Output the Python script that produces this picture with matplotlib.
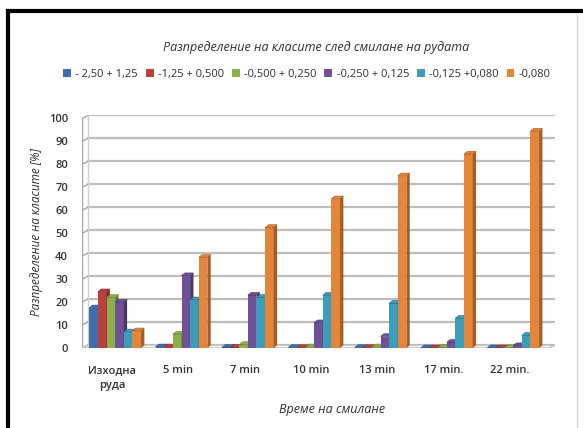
import matplotlib.pyplot as plt
from matplotlib.lines import Line2D
from matplotlib.patches import Polygon
import numpy as np

plt.rcParams['font.family'] = ['Open Sans', 'Noto Sans', 'DejaVu Sans']

# data
categories = ['Изходна\nруда', '5 min', '7 min', '10 min', '13 min', '17 min.', '22 min.']
labels = ['- 2,50 + 1,25', '-1,25 + 0,500', '-0,500 + 0,250',
          '-0,250 + 0,125', '-0,125 +0,080', '-0,080']
s1 = [17.5, 0.5, 0.3, 0.2, 0.2, 0.1, 0.1]
s2 = [24.5, 0.5, 0.3, 0.2, 0.2, 0.1, 0.1]
s3 = [22.0, 6.0, 1.5, 0.5, 0.5, 0.3, 0.2]
s4 = [20.0, 31.5, 23.0, 11.0, 5.0, 2.5, 1.0]
s5 = [7.0, 21.0, 22.0, 23.0, 19.5, 13.0, 5.5]
s6 = [7.5, 39.5, 52.5, 65.0, 75.0, 84.5, 94.5]
series = [s1, s2, s3, s4, s5, s6]
yticks = list(range(0, 101, 10))

colors = ['#3F6FAE', '#B9403D', '#8DB049', '#6E5196', '#3B9DBA', '#E3853A']
sides = ['#2A4C7A', '#7E2B29', '#5F7A30', '#4A3666', '#286C80', '#A35D25']

fig = plt.figure(figsize=(5.83, 4.28), dpi=100)
ax = fig.add_axes([82 / 583, 80 / 428, 473 / 583, 233 / 428])

x = np.arange(len(categories))
w = 0.13
dx, dy = 0.05, 1.2      # depth of the bars
gx, gy = 0.09, 1.3      # depth of the back wall
x0, x1 = -0.45, 6.68

# back wall gridlines with perspective
for t in yticks:
    ax.plot([x0 + gx, x1], [t + gy, t + gy], color='#BDBDBD', lw=1.6, zorder=1)
    ax.plot([x0 - 0.03, x0, x0 + gx], [t - 0.4, t, t + gy], color='#A6A6A6', lw=1, zorder=1)
ax.plot([x0, x0], [0, 100], color='#A6A6A6', lw=1, zorder=1)
ax.plot([x0 + gx, x0 + gx], [gy, 100 + gy], color='#D0D0D0', lw=1, zorder=1)
# floor
ax.add_patch(Polygon([[x0, 0], [x1 - gx, 0], [x1, gy], [x0 + gx, gy]],
                     closed=True, facecolor='#F2F2F2', edgecolor='#BDBDBD', lw=1, zorder=1))

for i, vals in enumerate(series):
    pos = x + 0.05 + (i - 2.5) * w
    ax.bar(pos, vals, width=w, color=colors[i], label=labels[i], zorder=3 + i * 0.01)
    for p, v in zip(pos, vals):
        r = p + w / 2
        ax.add_patch(Polygon([[r, 0], [r, v], [r + dx, v + dy], [r + dx, dy]],
                             closed=True, facecolor=sides[i], lw=0, zorder=3 + i * 0.01))
        l = p - w / 2
        ax.add_patch(Polygon([[l, v], [r, v], [r + dx, v + dy], [l + dx, v + dy]],
                             closed=True, facecolor=colors[i], edgecolor=sides[i], lw=0.4,
                             zorder=3 + i * 0.01))

ax.set_xlim(x0, x1)
ax.set_ylim(0, 100 + gy + 0.2)
ax.set_yticks(yticks)
ax.set_yticklabels([str(t) for t in yticks], fontsize=8, color='#333333', fontweight='semibold')
ax.set_xticks(x)
ax.set_xticklabels(categories, fontsize=8, color='#333333', linespacing=1.5,
                   fontweight='semibold')
ax.tick_params(axis='both', length=0)
ax.tick_params(axis='y', pad=10)
ax.tick_params(axis='x', pad=12)
for s in ax.spines.values():
    s.set_visible(False)

fig.text(316 / 583, 1 - 48 / 428, 'Разпределение на класите след смилане на рудата',
         ha='center', va='center', fontsize=9, style='italic', color='#303030')
fig.text(37 / 583, 1 - 232 / 428, 'Разпределение на класите [%]', rotation=90,
         ha='center', va='center', fontsize=8.5, style='italic', color='#303030')
fig.text(332 / 583, 1 - 410 / 428, 'Време на смилане',
         ha='center', va='center', fontsize=9, style='italic', color='#303030')

fig.legend(loc='center', bbox_to_anchor=(307 / 583, 1 - 74 / 428), ncol=6, frameon=False,
           fontsize=8, handlelength=0.7, handleheight=0.7, handletextpad=0.4,
           columnspacing=0.7, labelcolor='#303030')

# frame of the picture
fig.add_artist(Line2D([8 / 583, 8 / 583], [0, 1 - 11 / 428], color='black', lw=3))
fig.add_artist(Line2D([8 / 583, 1], [1 - 11 / 428, 1 - 11 / 428], color='black', lw=3))
fig.add_artist(Line2D([577 / 583, 577 / 583], [0, 1 - 14 / 428], color='#D9D9D9', lw=1))

fig.savefig('out.png', dpi=100)
